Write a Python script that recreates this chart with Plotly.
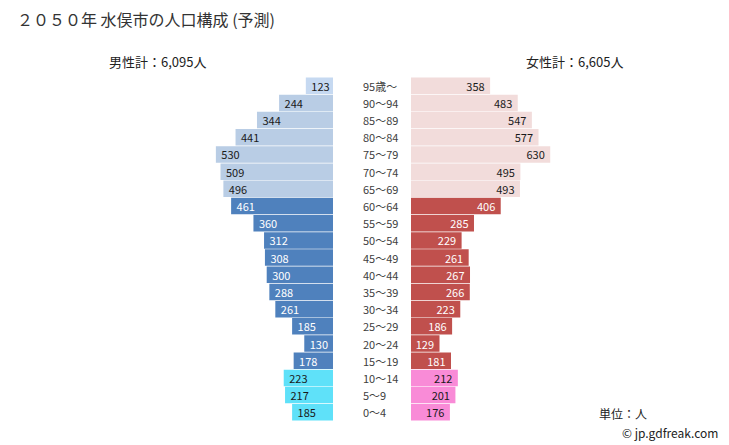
import plotly.graph_objects as go

# Data (top row = oldest)
age_labels = ["95歳～", "90～94", "85～89", "80～84", "75～79", "70～74", "65～69",
              "60～64", "55～59", "50～54", "45～49", "40～44", "35～39", "30～34",
              "25～29", "20～24", "15～19", "10～14", "5～9", "0～4"]
male = [123, 244, 344, 441, 530, 509, 496, 461, 360, 312, 308, 300, 288, 261,
        185, 130, 178, 223, 217, 185]
female = [358, 483, 547, 577, 630, 495, 493, 406, 285, 229, 261, 267, 266, 223,
          186, 129, 181, 212, 201, 176]
male_total = "6,095"
female_total = "6,605"

W, H = 729, 445
FONT = "Noto Sans CJK JP, Noto Sans, sans-serif"

def group(label):
    if label == "95歳～":
        return "top"
    lo = int(label.split("～")[0])
    if lo >= 65:
        return "old"
    if lo >= 15:
        return "work"
    return "child"

male_colors = {"top": "#c6d9f1", "old": "#b9cde5", "work": "#4f81bd", "child": "#5fe1f9"}
female_colors = {"top": "#f2dcdb", "old": "#f2dcdb", "work": "#c0504d", "child": "#f98bd7"}
text_colors = {"top": "#1a1a1a", "old": "#1a1a1a", "work": "#ffffff", "child": "#1a1a1a"}

groups = [group(a) for a in age_labels]
NB = "\u00a0"

fig = go.Figure()
fig.add_trace(go.Bar(
    y=age_labels, x=male, orientation="h", xaxis="x", yaxis="y",
    marker=dict(color=[male_colors[g] for g in groups], line=dict(width=0)),
    text=[NB + str(v) for v in male], textposition="inside", insidetextanchor="end",
    textfont=dict(size=11, family=FONT, color=[text_colors[g] for g in groups]),
    constraintext="none", cliponaxis=False, showlegend=False, hoverinfo="skip",
))
fig.add_trace(go.Bar(
    y=age_labels, x=female, orientation="h", xaxis="x2", yaxis="y",
    marker=dict(color=[female_colors[g] for g in groups], line=dict(width=0)),
    text=[str(v) + NB for v in female], textposition="inside", insidetextanchor="end",
    textfont=dict(size=11, family=FONT, color=[text_colors[g] for g in groups]),
    constraintext="none", cliponaxis=False, showlegend=False, hoverinfo="skip",
))

R = 700
px_per_unit = 0.221
span = R * px_per_unit
male_right = 333
female_left = 411

y_top_px, y_bot_px = 75.7, 422.3

axis_common = dict(showticklabels=False, showgrid=False, zeroline=False,
                   showline=False, ticks="", fixedrange=True)
fig.update_layout(
    width=W, height=H,
    margin=dict(l=0, r=0, t=0, b=0),
    paper_bgcolor="white", plot_bgcolor="white",
    bargap=0.04,
    font=dict(family=FONT, color="#333333"),
    xaxis=dict(domain=[(male_right - span) / W, male_right / W], range=[R, 0], **axis_common),
    xaxis2=dict(domain=[female_left / W, (female_left + span) / W], range=[0, R], **axis_common),
    yaxis=dict(domain=[1 - y_bot_px / H, 1 - y_top_px / H], autorange="reversed",
               type="category", **axis_common),
)

annotations = []
for lab in age_labels:
    annotations.append(dict(x=361 / W, xref="paper", y=lab, yref="y", text=lab,
                            showarrow=False, xanchor="left", yanchor="middle",
                            font=dict(size=11, color="#404040", family=FONT)))

annotations += [
    dict(x=15 / W, y=1 - 19 / H, xref="paper", yref="paper",
         text="２０５０年 水俣市の人口構成 (予測)", showarrow=False,
         xanchor="left", yanchor="middle", font=dict(size=16, color="#333333", family=FONT)),
    dict(x=157 / W, y=1 - 62 / H, xref="paper", yref="paper",
         text="男性計：" + male_total + "人", showarrow=False,
         xanchor="center", yanchor="middle", font=dict(size=13, color="#222222", family=FONT)),
    dict(x=574 / W, y=1 - 62 / H, xref="paper", yref="paper",
         text="女性計：" + female_total + "人", showarrow=False,
         xanchor="center", yanchor="middle", font=dict(size=13, color="#222222", family=FONT)),
    dict(x=597 / W, y=1 - 413 / H, xref="paper", yref="paper",
         text="単位：人", showarrow=False,
         xanchor="left", yanchor="middle", font=dict(size=12, color="#222222", family=FONT)),
    dict(x=720 / W, y=1 - 432 / H, xref="paper", yref="paper",
         text="© jp.gdfreak.com", showarrow=False,
         xanchor="right", yanchor="middle", font=dict(size=12, color="#222222", family=FONT)),
]
fig.update_layout(annotations=annotations)

fig.write_html("out.html")
